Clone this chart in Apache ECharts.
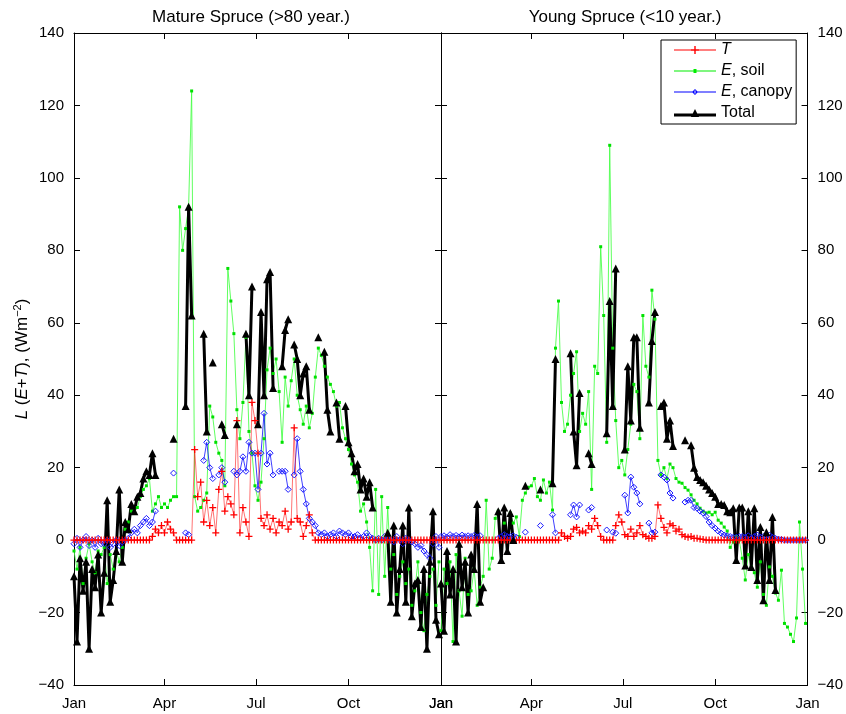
<!DOCTYPE html>
<html><head><meta charset="utf-8">
<script src="https://cdn.jsdelivr.net/npm/echarts@6/dist/echarts.min.js"></script>
<style>html,body{margin:0;padding:0;background:#fff}#c{width:846px;height:714px}</style>
</head><body><div id="c"></div>
<script>
// ---- tick labels ----
const monthTicks = [0, 90, 181, 273, 365];
const monthLabels = ['Jan', 'Apr', 'Jul', 'Oct', 'Jan'];
const panelTitles = ['Mature Spruce (>80 year.)', 'Young Spruce (<10 year.)'];
const seriesNames = ['T', 'E, soil', 'E, canopy', 'Total'];
// day of year of each sample (every 3rd day)
const days = Array.from({length: 122}, (_, i) => i * 3);

// ---- Mature spruce (left panel) ----
const matureT = [
 0,0,0,0,0,0,0,0,0,0,
 0,0,0,0,0,0,0,0,0,0,
 0,0,0,0,0,0,1,3,2,4,
 2,5,3,2,0,0,0,0,0,0,
 25,12,16,5,11,4,9,2,14,19,
 8,12,10,7,33,2,9,5,1,38,
 33,24,6,4,7,3,6,2,5,4,
 8,3,5,31,6,5,1,4,7,2,
 0,0,0,0,0,0,0,0,0,0,
 0,0,0,0,0,0,0,0,0,0,
 0,0,0,0,0,0,0,0,0,0,
 0,0,0,0,0,0,0,0,0,0,
 0,0];
const matureSoil = [
 -3,-8,-2,-12,-5,-1,-6,-9,-3,-4,
 -2,-12,-4,-8,-3,-6,-2,3,5,8,
 8,9,12,14,15,17,8,10,12,9,
 10,9,11,12,12,92,80,86,92,124,
 12,8,9,11,13,37,34,27,24,22,
 15,75,66,57,36,28,38,56,30,24,
 15,11,16,28,47,53,46,50,41,27,
 45,37,44,50,40,36,32,37,31,35,
 45,53,51,48,45,43,41,37,38,31,
 28,25,21,18,16,8,10,5,-2,-14,
 14,-15,12,-10,9,-8,-4,-15,-10,-6,
 -12,-8,-18,-14,-6,-20,-25,-15,-10,-8,
 -18,-6];
const matureCanopy = [
 -1,0.5,-2,0,1,-1.5,0,-2,0.5,-1,
 -1,0,-2,-1,0,-1.5,-0.5,0,0.5,2,
 3,2,4,5,6,4,5,8,null,null,
 null,null,null,18.5,null,null,null,2,1.5,null,
 null,null,null,22,27,20,17,null,18,20,
 16,null,null,19,18,19,23,19,27,24,
 24,14,24,35,21,24,18,null,19,19,
 19,14,null,18,28,19,14,10,6,5,
 4,2,1.5,2,1,1.5,2,1,2.5,2,
 1.5,2,1,1,1.5,0.5,1,2,1,0.5,
 0,0.5,0,1,0.5,0,-0.5,1,0,-1,
 0.5,0,-0.5,-1,-2,-1.5,-3,-4,-5,-1,
 1,-2];
const matureTotal = [
 -10,-28,-5,-14,-6,-30,-8,-13,-4,-20,
 -9,11,-17,-11,-3,14,-6,5,3,10,
 8,12,13,17,19,18,24,18,null,null,
 null,null,null,28,null,null,null,37,92,62,
 null,null,null,57,30,null,49,null,null,32,
 29,null,null,null,32,null,null,57,40,70,
 null,32,63,40,72,74,42,null,null,48,
 58,61,null,54,50,40,46,48,36,null,
 null,56,null,52,36,30,null,38,28,null,
 37,27,24,19,21,14,17,12,16,9,
 null,null,null,null,2,-17,4,-20,-8,4,
 -17,9,-21,-12,-11,-24,-8,-30,-6,8,
 -22,-26];

// ---- Young spruce (right panel) ----
const youngT = [
 0,0,0,0,0,0,0,0,0,0,
 0,0,0,0,0,0,0,0,0,0,
 0,0,0,0,0,0,0,0,0,0,
 0,0,0,0,0,0,0,0,0,0,
 2,1,0.5,1,3,3.5,2,2.5,2,4,
 3,6,4,1,0,0,0,0,4,7,
 5,1.5,1,3,1,2,4,1.5,1,0.5,
 0.5,1,9.7,6,3.5,2,4.5,4,2.5,3,
 1.5,1,0.8,1,0.5,0.5,0.3,0.2,0,0,
 0,0,0,0,0,0,0,0,0,0,
 0,0,0,0,0,0,0,0,0,0,
 0,0,0,0,0,0,0,0,0,0,
 0,0];
const youngSoil = [
 -25,-8,-12,-6,-28,-4,-14,-21,-5,-15,
 -14,-8,-18,-13,-10,11,-8,-5,6,8,
 -6,4.7,-3.6,7.5,4.7,6.4,1,11,13,14.6,
 15,17,12,11,16.6,13,16,8.3,53,66,
 38,30,32,40,46,52,30,35,32,41,
 14,48,46,81,62,27,109,53,33,20,
 22,18,25,32,43,41,28,62,48,45,
 69,61,22,18,20,17,21,20,17,16,
 15.7,14.5,13.8,12.5,11,10,8.8,8,7.5,7.7,
 7,7.7,5.5,4.7,3.6,2.5,-2,-0.5,1,0,
 -5,-11,-4,-7.4,-9,-13,-6,-15,-18,-7.4,
 -10,-14.6,-16.6,-8.3,-23,-24,-26,-28,-21.5,5,
 -8,-23];
const youngCanopy = [
 1,1.2,0.8,1.5,1,1.3,0.9,1.4,1,1.2,
 1,1.3,0.9,1.2,null,null,null,null,null,0.5,
 1,1.5,1,1,1.2,0.8,null,null,2.2,null,
 null,null,null,4,null,null,null,7,2,null,
 null,null,null,7,9.7,6.4,9.7,null,null,8.3,
 9,null,null,null,null,2.8,null,2.2,1.9,null,
 null,12.4,7.5,17.4,14.6,13,10,null,null,4.7,
 2,2.2,null,18,17.4,16.6,13,11.6,null,null,
 null,10.5,11,11,9,8.8,8,7.5,6.5,5,
 4,3.3,2.5,1.9,1.4,1.2,1,0.8,0.8,1,
 1,0.8,1.2,0.5,1,1.4,0.8,1,1.2,1.4,
 0.8,0.5,0.3,0.2,0,0,0,0,0,0,
 0,0];
const youngTotal = [
 -12,-25,-3,-15,-8,-28,-1,-13,-6,-20,
 -4,-8,10,-17,-13,null,null,null,null,8,
 -5.5,9,-3,7.5,0,null,null,null,15,null,
 null,null,null,14,null,null,null,15.7,50,null,
 null,null,null,51.6,30,20.7,40.6,null,null,24,
 21,null,null,null,null,29.5,66,37,75,null,
 null,25,48,33,56,56,31,null,null,38,
 55,63,null,37,38,28,33,26,null,null,
 null,27.6,null,26.2,20,17.4,16.6,16,15,14,
 13,12,10,10,9.7,8,7.7,8.8,-5.5,9,
 9,-7,8,-7.4,8.8,-11,3.6,-16.6,2.2,-11,
 6.4,-13.8,null,null,null,null,null,null,null,null,
 null,null];

const FONT = '"Liberation Sans", Arial, Helvetica, sans-serif';
const pairs = arr => arr.map((v, i) => [days[i], v == null ? '-' : v]);
const monthFmt = v => { const k = monthTicks.indexOf(v); return k >= 0 ? monthLabels[k] : ''; };
const minusFmt = v => String(v).replace('-', '\u2212');

const plusPath = 'path://M0,4.1h10v1.8h-10z M4.1,0h1.8v10h-1.8z';

function panelSeries(g, tArr, soilArr, canArr, totArr) {
  const base = {type: 'line', xAxisIndex: 2 * g, yAxisIndex: 2 * g, showAllSymbol: true,
    connectNulls: false, animation: false, emphasis: {disabled: true}};
  return [
    Object.assign({}, base, {name: 'E, soil', data: pairs(soilArr), symbol: 'rect', symbolSize: 3,
      lineStyle: {color: '#44ff44', width: 1, opacity: 0.85},
      itemStyle: {color: '#00e000'}}),
    Object.assign({}, base, {name: 'E, canopy', data: pairs(canArr), symbol: 'diamond', symbolSize: 6,
      lineStyle: {color: '#0000ff', width: 1, opacity: 0.75},
      itemStyle: {color: 'rgba(255,255,255,0)', borderColor: '#1a1aff', borderWidth: 1}}),
    Object.assign({}, base, {name: 'T', data: pairs(tArr), symbol: plusPath, symbolSize: 7,
      lineStyle: {color: '#ff0000', width: 1, opacity: 0.55},
      itemStyle: {color: '#ff0000'}}),
    Object.assign({}, base, {name: 'Total', data: pairs(totArr), symbol: 'triangle', symbolSize: 8,
      lineStyle: {color: '#000', width: 3},
      itemStyle: {color: '#000'}})
  ];
}

function xAx(g, pos, labels) {
  return {gridIndex: g, type: 'value', min: 0, max: 365, position: pos,
    axisLine: {show: true, onZero: false, lineStyle: {color: '#000', width: 1}},
    axisTick: {show: true, inside: true, length: 6, customValues: monthTicks, lineStyle: {color: '#000'}},
    axisLabel: {show: labels, customValues: monthTicks, formatter: monthFmt, color: '#000',
      fontSize: 15, fontFamily: FONT, margin: 11},
    splitLine: {show: false}};
}
function yAx(g, pos, labels, extra) {
  return Object.assign({gridIndex: g, type: 'value', min: -40, max: 140, interval: 20, position: pos,
    axisLine: {show: true, onZero: false, lineStyle: {color: '#000', width: 1}},
    axisTick: {show: true, inside: true, length: 6, lineStyle: {color: '#000'}},
    axisLabel: {show: labels, formatter: minusFmt, color: '#000', fontSize: 15, fontFamily: FONT, margin: 10},
    splitLine: {show: false}}, extra || {});
}

// legend icons: line with the series marker in the middle
const legendItems = [
  {name: 'T', icon: 'path://M0,3.5h42v1h-42z M20.3,0h1.4v8h-1.4z M17,3.3h8v1.4h-8z',
   itemStyle: {color: '#ff0000', borderWidth: 0}},
  {name: 'E, soil', icon: 'path://M0,1.5h42v1h-42z M19.5,0h3v4h-3z',
   itemStyle: {color: '#00ee00', borderWidth: 0}},
  {name: 'E, canopy', icon: 'path://M0,2.5h42v1h-42z M21,0L24,3L21,6L18,3Z M21,1.3L19.3,3L21,4.7L22.7,3Z',
   itemStyle: {color: '#0000ff', borderWidth: 0}},
  {name: 'Total', icon: 'path://M0,4.5h42v3h-42z M21,0L25,8L17,8Z',
   itemStyle: {color: '#000', borderWidth: 0}}
];

const option = {
  backgroundColor: '#fff',
  animation: false,
  grid: [
    {left: 74, top: 33, width: 367, height: 652},
    {left: 441, top: 33, width: 369, height: 652}
  ],
  xAxis: [xAx(0, 'bottom', true), xAx(0, 'top', false), xAx(1, 'bottom', true), xAx(1, 'top', false)],
  yAxis: [
    yAx(0, 'left', true, {
      name: '{i|L} ({i|E}+{i|T}), (Wm{s|\u22122})', nameLocation: 'middle', nameRotate: 90, nameGap: 42,
      nameTextStyle: {color: '#000', fontSize: 17, fontFamily: FONT,
        rich: {i: {fontStyle: 'italic', fontSize: 17, fontFamily: FONT, color: '#000'},
               s: {fontSize: 11, fontFamily: FONT, color: '#000', verticalAlign: 'top', padding: [0, 0, 9, 0]}}}
    }),
    yAx(0, 'right', false),
    yAx(1, 'left', false),
    yAx(1, 'right', true)
  ],
  legend: {
    data: legendItems, orient: 'vertical', left: 661, top: 40,
    backgroundColor: '#fff', borderColor: '#000', borderWidth: 1, borderRadius: 0,
    padding: [2, 4, 3, 13], itemGap: 5, itemWidth: 42, itemHeight: 8,
    selectedMode: false, symbolKeepAspect: true,
    textStyle: {color: '#000', fontSize: 16, fontFamily: FONT,
      rich: {i: {fontStyle: 'italic', fontSize: 16, fontFamily: FONT, color: '#000'}}},
    formatter: n => n === 'T' ? '{i|T}' : (n.charAt(0) === 'E' ? '{i|E}' + n.slice(1) : n)
  },
  graphic: [
    {type: 'text', x: 251, y: 17, style: {text: panelTitles[0], fill: '#000', font: '17px ' + FONT,
      textAlign: 'center', textVerticalAlign: 'middle'}},
    {type: 'text', x: 625, y: 17, style: {text: panelTitles[1], fill: '#000', font: '17px ' + FONT,
      textAlign: 'center', textVerticalAlign: 'middle'}}
  ],
  series: [].concat(
    panelSeries(0, matureT, matureSoil, matureCanopy, matureTotal),
    panelSeries(1, youngT, youngSoil, youngCanopy, youngTotal)
  )
};
const chart = echarts.init(document.getElementById('c'), null, {renderer: 'canvas'});
chart.setOption(option);
</script>
</body></html>
